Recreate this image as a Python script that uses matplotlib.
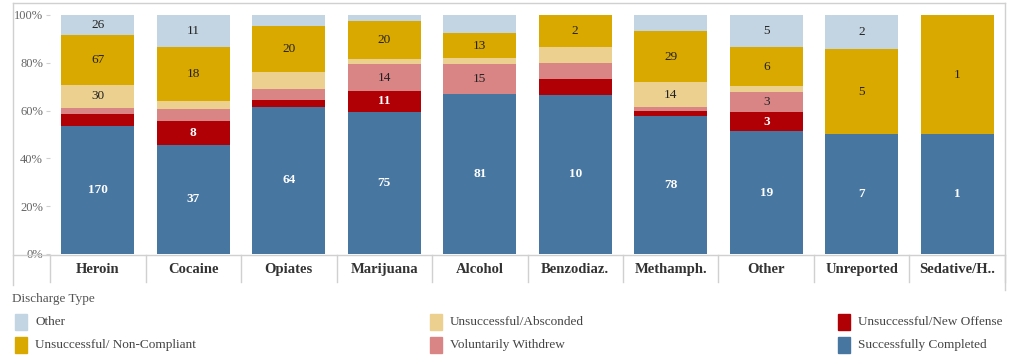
import numpy as np
import matplotlib.pyplot as plt
from matplotlib.lines import Line2D
from matplotlib.patches import Rectangle

# == Data ==
# counts per drug, one list per discharge type (bottom to top)
drugs = ["Heroin", "Cocaine", "Opiates", "Marijuana", "Alcohol",
         "Benzodiaz.", "Methamph.", "Other", "Unreported", "Sedative/H.."]

completed = [170, 37, 64, 75, 81, 10, 78, 19, 7, 1]
new_offense = [15, 8, 3, 11, 0, 1, 3, 3, 0, 0]
withdrew = [9, 4, 5, 14, 15, 1, 2, 3, 0, 0]
absconded = [30, 3, 7, 3, 3, 1, 14, 1, 0, 0]
non_compliant = [67, 18, 20, 20, 13, 2, 29, 6, 5, 1]
other = [26, 11, 5, 3, 9, 0, 9, 5, 2, 0]

series = [
    ("Successfully Completed", completed, "#4776a1", "white"),
    ("Unsuccessful/New Offense", new_offense, "#b00006", "white"),
    ("Voluntarily Withdrew", withdrew, "#d98586", "#222222"),
    ("Unsuccessful/Absconded", absconded, "#ecd08f", "#222222"),
    ("Unsuccessful/ Non-Compliant", non_compliant, "#daa900", "#222222"),
    ("Other", other, "#c3d5e2", "#222222"),
]

# legend order as in the picture (row by row)
legend_order = ["Other", "Unsuccessful/Absconded", "Unsuccessful/New Offense",
                "Unsuccessful/ Non-Compliant", "Voluntarily Withdrew", "Successfully Completed"]

SERIF = ["Liberation Serif", "DejaVu Serif"]
W, H = 1012, 355
GRID = "#d0d0d0"

fig = plt.figure(figsize=(W / 100, H / 100), dpi=100)
ax = fig.add_axes([50 / W, 1 - 254 / H, 955 / W, 251 / H])

totals = np.sum([s[1] for s in series], axis=0).astype(float)
x = np.arange(len(drugs))
bottom = np.zeros(len(drugs))
for name, vals, color, tcolor in series:
    frac = np.array(vals) / totals
    ax.bar(x, frac, bottom=bottom, width=0.76, color=color, linewidth=0)
    for i, (f, v) in enumerate(zip(frac, vals)):
        if f >= 0.075:
            weight = "bold" if tcolor == "white" else "normal"
            ax.text(x[i], bottom[i] + f / 2, str(v), ha="center", va="center",
                    color=tcolor, fontsize=9.5, fontweight=weight, family=SERIF)
    bottom += frac

ax.set_xlim(-0.5, len(drugs) - 0.5)
ax.set_ylim(0, 1.05)
ax.set_yticks(np.arange(0, 1.01, 0.2))
ax.set_yticklabels([f"{int(round(t * 100))}%" for t in np.arange(0, 1.01, 0.2)],
                   family=SERIF, fontsize=9, color="#666666")
ax.tick_params(axis="y", length=3, color=GRID, pad=2)
ax.set_xticks([])
for sp in ax.spines.values():
    sp.set_visible(False)


# == Frame lines in pixel coordinates ==
def fline(x0, y0, x1, y1):
    fig.add_artist(Line2D([x0 / W, x1 / W], [1 - y0 / H, 1 - y1 / H],
                          color=GRID, linewidth=1, transform=fig.transFigure))


fline(13, 3, 1005, 3)
fline(13, 3, 13, 285)
fline(1005, 3, 1005, 290)
fline(13, 255, 1005, 255)

# category separators and labels
for i in range(len(drugs) + 1):
    xb = ax.transData.transform((i - 0.5, 0))[0]
    fline(xb, 255, xb, 282)
for i, d in enumerate(drugs):
    ax.text(i, -0.06, d, ha="center", va="center", fontsize=10.5, fontweight="bold",
            family=SERIF, color="#333333", transform=ax.get_xaxis_transform())

# == Legend ==
fig.text(12 / W, 1 - 299 / H, "Discharge Type", ha="left", va="center",
         fontsize=9.5, family=SERIF, color="#555555")
colors = {s[0]: s[2] for s in series}
col_x = [15, 430, 838]
row_y = [322, 345]
for k, name in enumerate(legend_order):
    px, py = col_x[k % 3], row_y[k // 3]
    fig.add_artist(Rectangle((px / W, 1 - (py + 8) / H), 12 / W, 16 / H,
                             color=colors[name], transform=fig.transFigure))
    fig.text((px + 20) / W, 1 - py / H, name, ha="left", va="center",
             fontsize=9.5, family=SERIF, color="#444444")

fig.savefig("out.png", dpi=100)
